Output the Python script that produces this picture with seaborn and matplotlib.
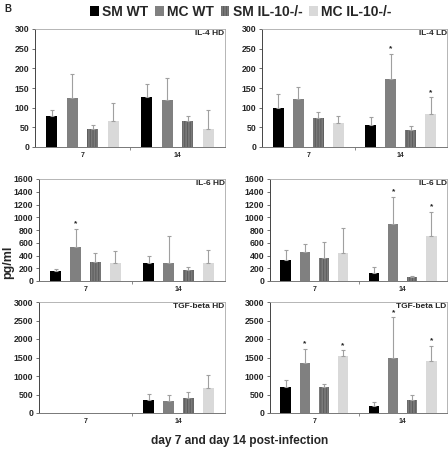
import matplotlib
matplotlib.use("Agg")
import matplotlib.pyplot as plt
from matplotlib.patches import Patch
from matplotlib.container import BarContainer
import numpy as np
import pandas as pd
import seaborn as sns

sns.set_style("white")
plt.rcParams["font.family"] = ["Liberation Sans", "DejaVu Sans"]
plt.rcParams["font.weight"] = "bold"
plt.rcParams["hatch.linewidth"] = 0.8

groups = ["SM WT", "MC WT", "SM IL-10-/-", "MC IL-10-/-"]
days = ["7", "14"]
colors = ["#000000", "#808080", "#7a7a7a", "#d9d9d9"]
hatches = [None, None, "||||||", None]

# values ordered: day 7 (4 groups), day 14 (4 groups)
il4_hd_mean = [80, 125, 46, 65, 127, 119, 65, 47]
il4_hd_top = [93, 186, 55, 113, 161, 176, 79, 93]
il4_hd_star = [0, 0, 0, 0, 0, 0, 0, 0]

il4_ld_mean = [98, 123, 73, 60, 55, 172, 44, 84]
il4_ld_top = [135, 153, 90, 80, 77, 237, 54, 126]
il4_ld_star = [0, 0, 0, 0, 0, 1, 0, 1]

il6_hd_mean = [160, 530, 300, 280, 285, 290, 180, 290]
il6_hd_top = [195, 820, 440, 470, 395, 705, 225, 480]
il6_hd_star = [0, 1, 0, 0, 0, 0, 0, 0]

il6_ld_mean = [335, 450, 365, 445, 120, 900, 65, 710]
il6_ld_top = [480, 585, 615, 830, 220, 1320, 80, 1090]
il6_ld_star = [0, 0, 0, 0, 0, 1, 0, 1]

tgf_hd_mean = [0, 0, 0, 0, 360, 330, 410, 680]
tgf_hd_top = [np.nan, np.nan, np.nan, np.nan, 510, 480, 560, 1030]
tgf_hd_star = [0, 0, 0, 0, 0, 0, 0, 0]

tgf_ld_mean = [700, 1350, 700, 1550, 195, 1490, 340, 1400]
tgf_ld_top = [880, 1740, 790, 1700, 285, 2590, 500, 1820]
tgf_ld_star = [0, 1, 0, 1, 0, 1, 0, 1]

panels = [
    ("IL-4 HD", il4_hd_mean, il4_hd_top, il4_hd_star, 300, 50),
    ("IL-4 LD", il4_ld_mean, il4_ld_top, il4_ld_star, 300, 50),
    ("IL-6 HD", il6_hd_mean, il6_hd_top, il6_hd_star, 1600, 200),
    ("IL-6 LD", il6_ld_mean, il6_ld_top, il6_ld_star, 1600, 200),
    ("TGF-beta HD", tgf_hd_mean, tgf_hd_top, tgf_hd_star, 3000, 500),
    ("TGF-beta LD", tgf_ld_mean, tgf_ld_top, tgf_ld_star, 3000, 500),
]

W, H = 448, 449
# pixel boxes: (left, top, right, bottom)
boxes = [
    (35, 29, 225, 147), (262, 29, 447, 147),
    (39, 179, 225, 281), (270, 179, 447, 281),
    (39, 302, 225, 413), (270, 302, 447, 413),
]

fig = plt.figure(figsize=(W / 100, H / 100), dpi=100)

for (title, mean, top, star, ymax, ystep), (l, t, r, b) in zip(panels, boxes):
    ax = fig.add_axes([l / W, 1 - b / H, (r - l) / W, (b - t) / H])
    df = pd.DataFrame({
        "day": [d for d in days for _ in groups],
        "group": groups * len(days),
        "value": mean,
    })
    sns.barplot(data=df, x="day", y="value", hue="group", order=days,
                hue_order=groups, palette=colors, width=0.86, gap=0.45,
                errorbar=None, legend=False, ax=ax, linewidth=0,
                saturation=1)
    bar_conts = [c for c in ax.containers if isinstance(c, BarContainer)]
    for gi, cont in enumerate(bar_conts):
        for di, bar in enumerate(cont):
            if hatches[gi]:
                bar.set_hatch(hatches[gi])
                bar.set_edgecolor("#5e5e5e")
                bar.set_linewidth(0)
            idx = di * len(groups) + gi
            tv = top[idx]
            if np.isnan(tv):
                continue
            xc = bar.get_x() + bar.get_width() / 2
            h = bar.get_height()
            ax.errorbar([xc], [h], yerr=[[0], [tv - h]], fmt="none",
                        ecolor="#a0a0a0", elinewidth=0.8, capsize=1.2,
                        capthick=0.8, zorder=1)
            if star[idx]:
                ax.text(xc, tv + ymax * 0.012, "*", ha="center", va="bottom",
                        fontsize=6, fontweight="bold", color="#222222")
    ax.set_xlim(-0.5, 1.5)
    ax.set_ylim(0, ymax)
    ax.set_yticks(np.arange(0, ymax + 1, ystep))
    ax.set_xlabel("")
    ax.set_ylabel("")
    ax.tick_params(axis="y", labelsize=6.3, length=2.5, width=0.6,
                   color="#555555", pad=1.5, left=True)
    ax.tick_params(axis="x", which="major", labelsize=5, length=0, pad=3.5)
    ax.set_xticks([0.5], minor=True)
    ax.tick_params(axis="x", which="minor", length=2.5, width=0.6,
                   color="#777777", bottom=True)
    for lab in ax.get_yticklabels() + ax.get_xticklabels():
        lab.set_fontweight("bold")
    for side in ["top", "right"]:
        ax.spines[side].set_color("#aaaaaa")
        ax.spines[side].set_linewidth(0.6)
    ax.spines["left"].set_color("#444444")
    ax.spines["left"].set_linewidth(0.7)
    ax.spines["bottom"].set_color("#777777")
    ax.spines["bottom"].set_linewidth(0.7)
    ax.text(0.998, 0.99, title, transform=ax.transAxes, ha="right", va="top",
            fontsize=6.0, fontweight="bold")

handles = [Patch(facecolor=c, edgecolor=("#5e5e5e" if h else c), hatch=h,
                 linewidth=0) for c, h in zip(colors, hatches)]
fig.legend(handles, groups, loc="center", bbox_to_anchor=(241 / W, 1 - 12 / H),
           ncol=4, frameon=False, prop={"size": 10, "weight": "bold"},
           handlelength=0.6, handleheight=0.8, handletextpad=0.25,
           columnspacing=0.5, borderpad=0)

fig.text(8 / W, 1 - 9 / H, "B", fontsize=7, fontweight="bold",
         ha="center", va="center")
fig.text(8 / W, 1 - 262 / H, "pg/ml", rotation=90, fontsize=9,
         fontweight="bold", ha="center", va="center")
fig.text(240 / W, 1 - 441 / H, "day 7 and day 14 post-infection",
         fontsize=8.6, fontweight="bold", ha="center", va="center")

fig.savefig("out.png", dpi=100)
